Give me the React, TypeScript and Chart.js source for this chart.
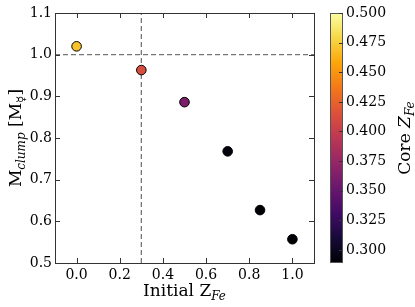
import { useEffect, useRef } from "react";
import { Chart, registerables } from "chart.js";

Chart.register(...registerables);

// ---- data ----
const initialZFe = [0.0, 0.3, 0.5, 0.7, 0.85, 1.0];
const clumpMass = [1.02, 0.963, 0.886, 0.768, 0.627, 0.557];
const coreZFe = [0.47, 0.412, 0.362, 0.292, 0.289, 0.289];
const xTicks = [0.0, 0.2, 0.4, 0.6, 0.8, 1.0];
const yTicks = [0.5, 0.6, 0.7, 0.8, 0.9, 1.0, 1.1];
const cbTicks = [0.3, 0.325, 0.35, 0.375, 0.4, 0.425, 0.45, 0.475, 0.5];
const xRange = [-0.1, 1.1];
const yRange = [0.5, 1.1];
const cbRange = [0.289, 0.5];
const refX = 0.3;
const refY = 1.0;

// inferno colormap stops
const INFERNO = [
  "#000004", "#160b39", "#420a68", "#6a176e", "#932667", "#bc3754",
  "#dd513a", "#f37819", "#fca50a", "#f6d746", "#fcffa4",
];

function hexToRgb(h: string) {
  return [parseInt(h.slice(1, 3), 16), parseInt(h.slice(3, 5), 16), parseInt(h.slice(5, 7), 16)];
}
function inferno(t: number) {
  t = Math.max(0, Math.min(1, t));
  const n = INFERNO.length - 1;
  const i = Math.min(n - 1, Math.floor(t * n));
  const f = t * n - i;
  const a = hexToRgb(INFERNO[i]);
  const b = hexToRgb(INFERNO[i + 1]);
  const c = a.map((v, k) => Math.round(v + (b[k] - v) * f));
  return `rgb(${c[0]},${c[1]},${c[2]})`;
}
const norm = (v: number) => (v - cbRange[0]) / (cbRange[1] - cbRange[0]);

const SERIF = "'DejaVu Serif', serif";
const AX = "#333333";

type Part = { t: string; font: string; dy: number };
function drawRich(ctx: CanvasRenderingContext2D, parts: Part[], x: number, y: number, rot: number) {
  ctx.save();
  ctx.translate(x, y);
  ctx.rotate(rot);
  ctx.textBaseline = "alphabetic";
  ctx.textAlign = "left";
  let w = 0;
  for (const p of parts) {
    ctx.font = p.font;
    w += ctx.measureText(p.t).width;
  }
  let cx = -w / 2;
  for (const p of parts) {
    ctx.font = p.font;
    ctx.fillText(p.t, cx, p.dy);
    cx += ctx.measureText(p.t).width;
  }
  ctx.restore();
}

const decoPlugin = {
  id: "deco",
  afterDraw(chart: any) {
    const ctx: CanvasRenderingContext2D = chart.ctx;
    const { left, right, top, bottom } = chart.chartArea;
    const xs = chart.scales.x;
    const ys = chart.scales.y;
    const cs = chart.scales.cb;
    ctx.save();
    // frame
    ctx.strokeStyle = AX;
    ctx.lineWidth = 1;
    ctx.strokeRect(Math.round(left) + 0.5, Math.round(top) + 0.5, Math.round(right - left), Math.round(bottom - top));
    // inward ticks
    const tl = 5;
    ctx.beginPath();
    for (const v of xTicks) {
      const px = Math.round(xs.getPixelForValue(v)) + 0.5;
      ctx.moveTo(px, bottom);
      ctx.lineTo(px, bottom - tl);
      ctx.moveTo(px, top);
      ctx.lineTo(px, top + tl);
    }
    for (const v of yTicks) {
      const py = Math.round(ys.getPixelForValue(v)) + 0.5;
      ctx.moveTo(left, py);
      ctx.lineTo(left + tl, py);
      ctx.moveTo(right, py);
      ctx.lineTo(right - tl, py);
    }
    ctx.stroke();

    // colorbar
    const cbL = 330;
    const cbR = 343;
    const cbT = cs.getPixelForValue(cbRange[1]);
    const cbB = cs.getPixelForValue(cbRange[0]);
    const g = ctx.createLinearGradient(0, cbB, 0, cbT);
    INFERNO.forEach((c, i) => g.addColorStop(i / (INFERNO.length - 1), c));
    ctx.fillStyle = g;
    ctx.fillRect(cbL, cbT, cbR - cbL, cbB - cbT);
    ctx.strokeStyle = "#555555";
    ctx.strokeRect(cbL + 0.5, Math.round(cbT) + 0.5, cbR - cbL - 1, Math.round(cbB - cbT) - 1);
    ctx.strokeStyle = AX;
    ctx.fillStyle = "#000";
    ctx.font = `14px ${SERIF}`;
    ctx.textAlign = "left";
    ctx.textBaseline = "middle";
    ctx.beginPath();
    for (const v of cbTicks) {
      const py = Math.round(cs.getPixelForValue(v)) + 0.5;
      ctx.moveTo(cbR, py);
      ctx.lineTo(cbR - 4, py);
    }
    ctx.stroke();
    for (const v of cbTicks) {
      ctx.fillText(v.toFixed(3), cbR + 3, cs.getPixelForValue(v));
    }

    // titles
    ctx.fillStyle = "#000";
    const big = `17px ${SERIF}`;
    const bigI = `italic 17px ${SERIF}`;
    const sub = `12px ${SERIF}`;
    const subI = `italic 12px ${SERIF}`;
    drawRich(
      ctx,
      [
        { t: "Initial Z", font: big, dy: 0 },
        { t: "Fe", font: subI, dy: 4 },
      ],
      (left + right) / 2,
      296,
      0
    );
    drawRich(
      ctx,
      [
        { t: "M", font: big, dy: 0 },
        { t: "clump", font: subI, dy: 4 },
        { t: " [M", font: big, dy: 0 },
        { t: "\u263F", font: sub, dy: 4 },
        { t: "]", font: big, dy: 0 },
      ],
      21,
      (top + bottom) / 2,
      -Math.PI / 2
    );
    drawRich(
      ctx,
      [
        { t: "Core ", font: big, dy: 0 },
        { t: "Z", font: bigI, dy: 0 },
        { t: "Fe", font: subI, dy: 4 },
      ],
      410,
      (top + bottom) / 2,
      -Math.PI / 2
    );
    ctx.restore();
  },
};

export default function App() {
  const ref = useRef<HTMLCanvasElement>(null);
  useEffect(() => {
    if (!ref.current) return;
    const chart = new Chart(ref.current, {
      type: "scatter",
      data: {
        datasets: [
          {
            type: "scatter",
            data: initialZFe.map((x, i) => ({ x, y: clumpMass[i] })),
            backgroundColor: coreZFe.map((z) => inferno(norm(z))),
            borderColor: "#000",
            borderWidth: 1,
            pointRadius: 4.8,
            order: 1,
          },
          {
            type: "line",
            data: [
              { x: xRange[0], y: refY },
              { x: xRange[1], y: refY },
            ],
            borderColor: "#777777",
            borderWidth: 1.3,
            borderDash: [5, 3],
            pointRadius: 0,
            order: 2,
          },
          {
            type: "line",
            data: [
              { x: refX, y: yRange[0] },
              { x: refX, y: yRange[1] },
            ],
            borderColor: "#777777",
            borderWidth: 1.3,
            borderDash: [5, 3],
            pointRadius: 0,
            order: 2,
          },
        ],
      } as any,
      options: {
        animation: false,
        responsive: true,
        maintainAspectRatio: false,
        layout: { padding: { top: 13, right: 101, left: 0, bottom: 0 } },
        plugins: { legend: { display: false }, tooltip: { enabled: false } },
        scales: {
          x: {
            type: "linear",
            min: xRange[0],
            max: xRange[1],
            grid: { display: false, drawTicks: false },
            border: { display: false },
            afterBuildTicks: (s: any) => {
              s.ticks = xTicks.map((v) => ({ value: v }));
            },
            afterFit: (s: any) => {
              s.height = 44;
            },
            ticks: {
              padding: 4,
              color: "#000",
              font: { family: SERIF, size: 14 },
              callback: (v: any) => Number(v).toFixed(1),
            },
          },
          y: {
            type: "linear",
            min: yRange[0],
            max: yRange[1],
            grid: { display: false, drawTicks: false },
            border: { display: false },
            afterBuildTicks: (s: any) => {
              s.ticks = yTicks.map((v) => ({ value: v }));
            },
            afterFit: (s: any) => {
              s.width = 55;
            },
            ticks: {
              padding: 3,
              color: "#000",
              font: { family: SERIF, size: 14 },
              callback: (v: any) => Number(v).toFixed(1),
            },
          },
          cb: {
            type: "linear",
            axis: "y",
            position: "right",
            display: false,
            min: cbRange[0],
            max: cbRange[1],
          },
        },
      } as any,
      plugins: [decoPlugin],
    });
    return () => chart.destroy();
  }, []);
  return (
    <div style={{ position: "fixed", left: 0, top: 0, width: 415, height: 307, background: "#fff" }}>
      <canvas ref={ref} />
    </div>
  );
}
